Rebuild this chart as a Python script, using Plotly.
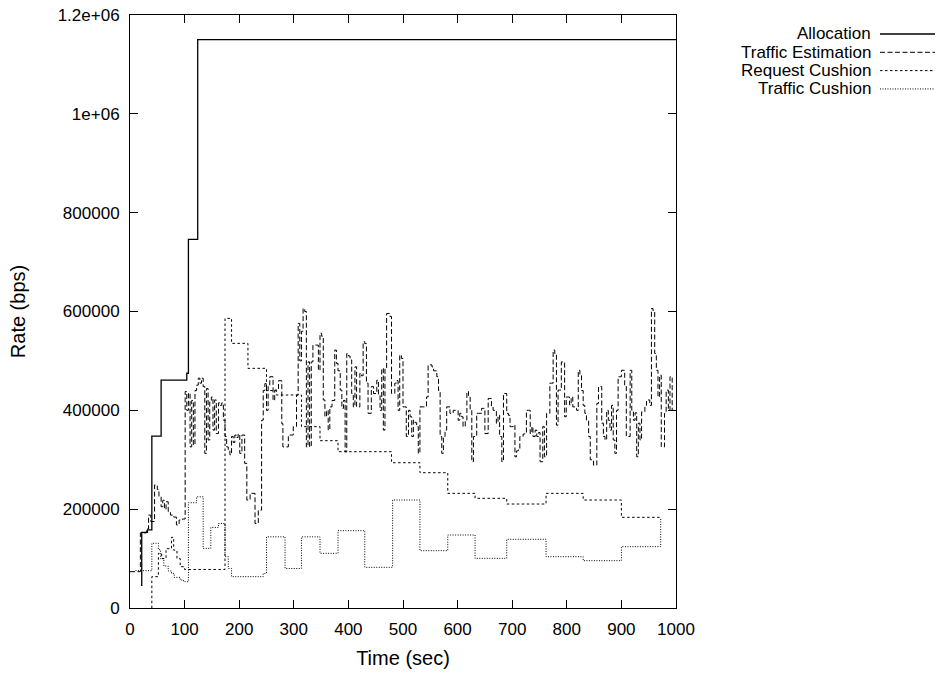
import plotly.graph_objects as go

# ---- data -------------------------------------------------------------
alloc_t = [20, 21.5, 32, 40, 57, 104, 107, 124, 1000]
alloc_v = [46000, 153000, 158000, 348000, 461000, 475000, 746000, 1150000, 1150000]

est_t = [0, 19, 30, 34, 38, 45, 50, 53, 57, 60, 63, 66, 70, 74, 80, 85, 90, 96,
         101, 104, 107, 110, 113, 116, 119, 122, 125, 128, 131, 134, 137, 140,
         143, 146, 149, 152, 155, 158, 162, 165, 168, 171, 174, 177, 180, 183,
         186, 189, 192, 195, 198, 201, 205, 210, 214, 220, 222, 229, 235, 241,
         244, 247, 250, 253, 256, 262, 265, 268, 272, 278, 280, 286, 290, 296,
         299, 302, 305, 308, 311, 314, 317, 320, 323, 326, 329, 332, 335, 341,
         345, 348, 351, 354, 357, 360, 363, 366, 370, 375, 378, 381, 385, 388,
         391, 394, 397, 400, 403, 406, 409, 412, 415, 421, 424, 427, 430, 433,
         436, 442, 446, 452, 455, 458, 461, 464, 467, 470, 476, 479, 485, 488,
         491, 494, 497, 500, 503, 506, 510, 513, 516, 519, 522, 525, 528, 531,
         537, 543, 546, 553, 556, 562, 565, 568, 571, 574, 577, 580, 586, 592,
         598, 601, 604, 607, 610, 614, 617, 620, 623, 626, 629, 635, 638, 644,
         647, 650, 656, 659, 662, 665, 668, 671, 674, 677, 679, 681, 684, 687,
         690, 693, 696, 699, 702, 705, 708, 711, 714, 717, 720, 723, 726, 730,
         733, 736, 738, 742, 745, 748, 751, 756, 759, 763, 766, 769, 772, 775,
         778, 781, 784, 787, 790, 796, 799, 802, 805, 808, 811, 815, 818, 821,
         824, 827, 830, 833, 836, 840, 843, 846, 849, 852, 855, 858, 860, 864,
         867, 870, 873, 876, 879, 882, 885, 888, 891, 894, 897, 900, 903, 906,
         909, 913, 916, 919, 922, 925, 928, 931, 934, 937, 940, 943, 946, 949,
         952, 955, 958, 961, 964, 967, 970, 973, 976, 979, 982, 986, 989, 993,
         996, 1000]
est_v = [73500, 152000, 160000, 188000, 175000, 249000, 240000, 225000, 205000,
         218000, 200000, 215000, 195000, 188000, 184000, 168000, 178000, 180000,
         438000, 400000, 435000, 326000, 420000, 330000, 440000, 451000, 465000,
         455000, 465000, 448000, 313000, 444000, 340000, 420000, 427000, 360000,
         421000, 353000, 415000, 410000, 415000, 380000, 347000, 326000, 320000,
         310000, 347000, 335000, 350000, 345000, 352000, 313000, 350000, 292700,
         218500, 232000, 232000, 171000, 198000, 380000, 440000, 454000, 400000,
         450000, 468000, 420000, 441000, 441000, 460000, 373000, 326000, 326000,
         350000, 350000, 367000, 367000, 431000, 576000, 500000, 560000, 606000,
         600000, 326000, 498000, 326000, 498000, 532000, 532000, 481000, 556000,
         550000, 421000, 387000, 400000, 360000, 407000, 420000, 522000, 495000,
         480000, 441000, 404000, 420000, 316000, 515000, 510000, 502000, 434000,
         407000, 488000, 407000, 475000, 470000, 539000, 535000, 455000, 394000,
         448000, 434000, 461000, 430000, 400000, 485000, 360000, 485000, 596000,
         590000, 434000, 455000, 460000, 400000, 512000, 505000, 407000, 407000,
         347000, 400000, 387000, 347000, 380000, 375000, 367000, 313000, 407000,
         407000, 427000, 492000, 488000, 480000, 468000, 440000, 347000, 313000,
         347000, 360000, 407000, 394000, 400000, 400000, 380000, 394000, 387000,
         367000, 380000, 438000, 430000, 400000, 296000, 347000, 394000, 394000,
         404000, 404000, 353000, 424000, 424000, 407000, 400000, 400000, 374000,
         390000, 347000, 347000, 296000, 434000, 434000, 394000, 390000, 367000,
         367000, 370000, 306000, 318000, 320000, 347000, 347000, 352000, 355000,
         400000, 400000, 353000, 367000, 347000, 360000, 347000, 355000, 296000,
         367000, 306000, 394000, 394000, 455000, 455000, 522000, 515000, 370000,
         441000, 441000, 498000, 387000, 427000, 427000, 411000, 427000, 407000,
         404000, 400000, 481000, 470000, 440000, 410000, 394000, 380000, 347000,
         300000, 300000, 289000, 289000, 414000, 448000, 448000, 374000, 347000,
         340000, 400000, 380000, 360000, 410000, 340000, 313000, 400000, 468000,
         468000, 481000, 481000, 450000, 347000, 347000, 481000, 400000, 380000,
         395000, 306000, 374000, 340000, 397000, 397000, 410000, 421000, 421000,
         410000, 606000, 600000, 515000, 481000, 427000, 471000, 326000, 326000,
         394000, 441000, 400000, 468000, 400000, 400000]

req_t = [39.7, 40, 52, 58, 66, 76, 80, 86, 92, 100, 174, 186, 216, 250, 268,
         314, 348, 381, 479, 531, 582, 632, 690, 762, 830, 900, 970]
req_v = [0, 63400, 110600, 100000, 120000, 143000, 117000, 100000, 83600, 78000,
         586000, 535500, 485000, 440000, 431000, 367000, 338600, 316300, 294000,
         273800, 232000, 222000, 210400, 232000, 218500, 183500, 183500]

tc_t = [10, 40, 52, 56, 62, 70, 76, 81, 92, 98, 107, 122, 134, 148, 162, 174,
        180, 186, 244, 250, 284, 314, 348, 381, 430, 481, 531, 582, 632, 690,
        762, 830, 900, 972]
tc_v = [75500, 131000, 118000, 100000, 85000, 75000, 70000, 62000, 56600, 53300,
        213000, 225000, 120700, 163000, 171000, 104000, 80000, 63400, 70000,
        144000, 80000, 144000, 110600, 156500, 82300, 218500, 116000, 147700,
        100500, 139000, 103900, 95800, 124100, 183500]

y_ticks = [0, 200000, 400000, 600000, 800000, 1000000, 1200000]
y_labels = ["0", "200000", "400000", "600000", "800000", "1e+06", "1.2e+06"]
x_ticks = list(range(0, 1001, 100))

series = [
    ("Allocation", alloc_t, alloc_v, "solid", 1.3),
    ("Traffic Estimation", est_t, est_v, "5px,2.5px", 1.0),
    ("Request Cushion", req_t, req_v, "2.5px,2.5px", 1.0),
    ("Traffic Cushion", tc_t, tc_v, "1px,1.5px", 1.0),
]

FONT = "Liberation Sans, Arial, Helvetica, sans-serif"
FS = 17

fig = go.Figure()
for name, t, v, dash, w in series:
    fig.add_trace(go.Scatter(
        x=t, y=v, mode="lines", name=name, line_shape="hv",
        line=dict(color="black", width=w, dash=dash), showlegend=False,
    ))

# key in the upper right, labels right-aligned with a line sample after them
key_y0, key_dy = 0.968, 0.0309
for i, (name, _, _, dash, w) in enumerate(series):
    yk = key_y0 - i * key_dy
    fig.add_annotation(x=1.3608, y=yk, xref="paper", yref="paper", text=name,
                       showarrow=False, xanchor="right", yanchor="middle",
                       font=dict(family=FONT, size=FS, color="black"))
    fig.add_shape(type="line", xref="paper", yref="paper",
                  x0=1.3736, x1=1.4744, y0=yk, y1=yk,
                  line=dict(color="black", width=w, dash=dash))

axis_common = dict(
    showline=True, linecolor="black", linewidth=1, mirror="allticks",
    ticks="inside", ticklen=8, tickwidth=1, tickcolor="black",
    showgrid=False, zeroline=False, automargin=False,
    tickfont=dict(family=FONT, size=FS, color="black"),
)

fig.update_layout(
    width=943, height=673,
    margin=dict(l=130, r=267, t=15, b=65),
    paper_bgcolor="white", plot_bgcolor="white",
    font=dict(family=FONT, size=FS, color="black"),
    xaxis=dict(range=[0, 1000], tickvals=x_ticks,
               title=dict(text="Time (sec)", standoff=12), ticklabelstandoff=6,
               **axis_common),
    yaxis=dict(range=[0, 1200000], tickvals=y_ticks, ticktext=y_labels,
               title=dict(text="Rate (bps)", standoff=26), ticklabelstandoff=6,
               **axis_common),
)

fig.write_html("out.html")
